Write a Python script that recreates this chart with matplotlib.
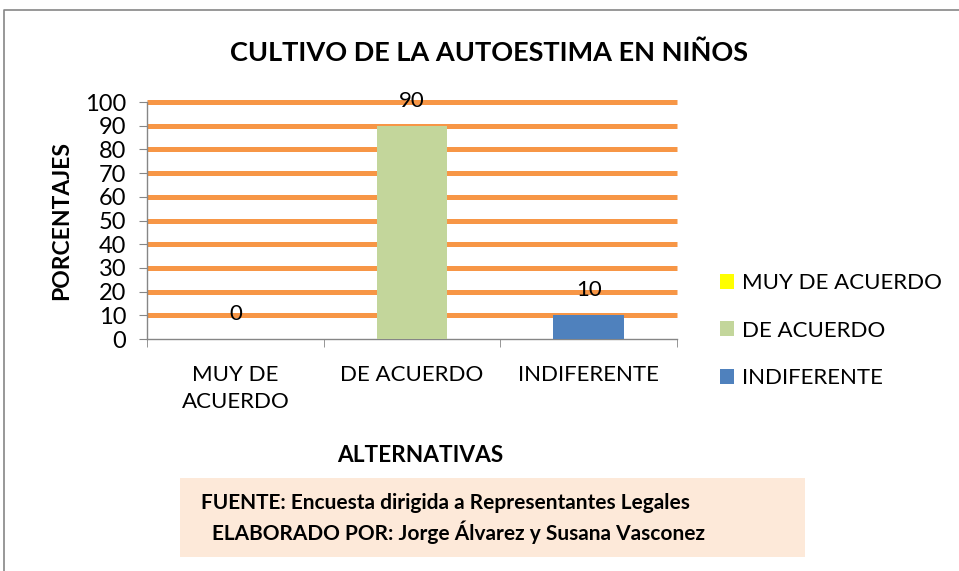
import matplotlib
matplotlib.use("Agg")
import matplotlib.pyplot as plt
from matplotlib.patches import Patch, Rectangle
from matplotlib.lines import Line2D

# Data
categories = ["MUY DE\nACUERDO", "DE ACUERDO", "INDIFERENTE"]
legend_labels = ["MUY DE ACUERDO", "DE ACUERDO", "INDIFERENTE"]
values = [0, 90, 10]
colors = ["#FFFF00", "#C3D69B", "#4F81BD"]
y_ticks = [0, 10, 20, 30, 40, 50, 60, 70, 80, 90, 100]

plt.rcParams["font.family"] = ["Lato", "DejaVu Sans"]

fig = plt.figure(figsize=(9.59, 5.71), dpi=100)
W, H = 959, 571

# Axes placed in pixels
ax = fig.add_axes([147 / W, 1 - 339 / H, (677 - 147) / W, (339 - 102) / H])

x = list(range(len(categories)))
ax.bar(x, values, width=0.4, color=colors, zorder=3)

# Value labels above bars
for xi, v in zip(x, values):
    ax.annotate(str(v), (xi, v), xytext=(0, 18), textcoords="offset points",
                ha="center", va="center", fontsize=16, zorder=4)

ax.set_xlim(-0.5, len(categories) - 0.5)
ax.set_ylim(0, 100)
ax.set_yticks(y_ticks)
ax.tick_params(axis="y", labelsize=17, length=6, color="#868686", pad=9)

# Category labels at centers, tick marks at boundaries
ax.set_xticks(x)
ax.set_xticklabels(categories, fontsize=16, linespacing=1.4)
ax.tick_params(axis="x", which="major", length=0, pad=19)
ax.set_xticks([i - 0.5 for i in range(len(categories) + 1)], minor=True)
ax.tick_params(axis="x", which="minor", length=6, color="#868686")

# Orange grid lines
ax.set_axisbelow(True)
ax.yaxis.grid(True, color="#F79646", linewidth=3.6)
for i, gl in enumerate(ax.get_ygridlines()):
    gl.set_clip_on(False)
    gl.set_solid_capstyle("butt")
    if i == 0:
        gl.set_visible(False)

for s in ["top", "right"]:
    ax.spines[s].set_visible(False)
for s in ["left", "bottom"]:
    ax.spines[s].set_color("#868686")
    ax.spines[s].set_linewidth(1.0)

# Titles
fig.text(489 / W, 1 - 53 / H, "CULTIVO DE LA AUTOESTIMA EN NIÑOS",
         ha="center", va="center", fontsize=19.5, fontweight="bold")
fig.text(62 / W, 1 - 220 / H, "PORCENTAJES", rotation=90,
         ha="center", va="center", fontsize=16.5, fontweight="bold")
fig.text(420 / W, 1 - 455 / H, "ALTERNATIVAS",
         ha="center", va="center", fontsize=16.3, fontweight="bold")

# Legend
handles = [Patch(facecolor=c, edgecolor="none") for c in colors]
fig.legend(handles, legend_labels, loc="upper left",
           bbox_to_anchor=(700 / W, 1 - 253 / H), frameon=False,
           fontsize=16, handlelength=0.65, handleheight=0.65,
           handletextpad=0.36, labelspacing=1.24)

# Source box
fig.patches.append(Rectangle((180 / W, 1 - 557 / H), 625 / W, 79 / H,
                             transform=fig.transFigure, facecolor="#FDE9D9",
                             edgecolor="none", zorder=0))
fig.text(201 / W, 1 - 503 / H, "FUENTE: Encuesta dirigida a Representantes Legales",
         ha="left", va="center", fontsize=15, fontweight="bold")
fig.text(212 / W, 1 - 532 / H, "ELABORADO POR: Jorge Álvarez y Susana Vasconez",
         ha="left", va="center", fontsize=15, fontweight="bold")

# Chart frame
fig.lines.append(Line2D([4 / W, 4 / W, 1], [0, 1 - 10 / H, 1 - 10 / H],
                        transform=fig.transFigure, color="#868686", linewidth=1.2))

fig.savefig("out.png", dpi=100)
